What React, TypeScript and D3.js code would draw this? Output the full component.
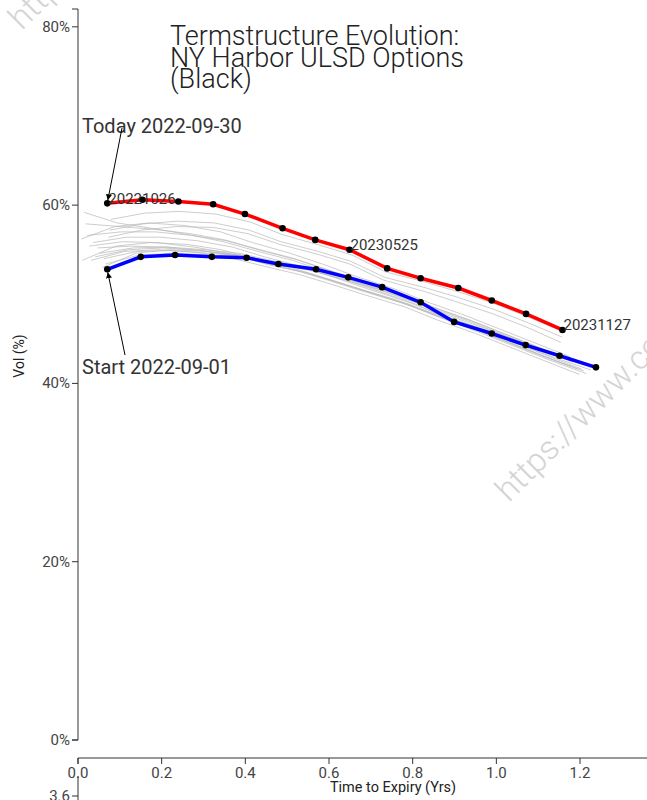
import React from "react";
import * as d3 from "d3";

// ---- data ----
const todayX = [0.070, 0.154, 0.240, 0.323, 0.399, 0.489, 0.567, 0.649, 0.739, 0.819, 0.909, 0.989, 1.071, 1.158];
const todayVol = [60.2, 60.6, 60.4, 60.1, 59.0, 57.4, 56.1, 55.0, 52.9, 51.8, 50.7, 49.3, 47.8, 46.0];
const startX = [0.070, 0.150, 0.232, 0.320, 0.403, 0.479, 0.569, 0.646, 0.727, 0.819, 0.899, 0.989, 1.070, 1.151, 1.238];
const startVol = [52.8, 54.2, 54.4, 54.2, 54.1, 53.4, 52.8, 51.9, 50.8, 49.1, 46.9, 45.6, 44.3, 43.1, 41.8];
const todayLabels = [
  { i: 0, text: "20221026" },
  { i: 7, text: "20230525" },
  { i: 13, text: "20231127" },
];
// contract spacing (years after first listed contract)
const contractOffsets = [0, 0.08, 0.162, 0.25, 0.333, 0.409, 0.499, 0.576, 0.657, 0.749, 0.829, 0.919, 1.0, 1.081, 1.168];
// intermediate curves: first tenor and vols
const grayStarts = [0.066, 0.062, 0.058, 0.052, 0.047, 0.041, 0.036, 0.031, 0.027, 0.022, 0.018, 0.014, 0.010, 0.008, 0.079, 0.076, 0.073];
const grayVols = [
  [53.4, 54.4, 54.6, 54.4, 54.2, 53.5, 52.8, 51.9, 50.8, 49.2, 47.2, 45.8, 44.5, 43.3, 42.0],
  [54.0, 54.8, 54.9, 54.6, 54.3, 53.5, 52.6, 51.6, 50.5, 49.0, 47.3, 45.9, 44.6, 43.3, 41.9],
  [53.0, 54.6, 55.0, 54.8, 54.4, 53.6, 52.7, 51.7, 50.4, 48.9, 47.2, 45.7, 44.3, 42.9, 41.5],
  [54.6, 55.2, 55.3, 55.0, 54.6, 53.8, 52.9, 51.9, 50.7, 49.3, 47.7, 46.2, 44.8, 43.4, 42.0],
  [55.2, 55.4, 55.3, 54.9, 54.3, 53.3, 52.4, 51.3, 50.1, 48.7, 47.2, 45.6, 44.1, 42.6, 41.1],
  [54.2, 55.0, 55.2, 54.9, 54.4, 53.5, 52.5, 51.4, 50.2, 48.9, 47.4, 45.9, 44.4, 42.9, 41.4],
  [55.8, 56.4, 56.4, 56.0, 55.3, 54.2, 53.1, 51.9, 50.6, 49.2, 47.7, 46.2, 44.7, 43.2, 41.6],
  [53.8, 54.8, 55.0, 54.7, 54.1, 53.2, 52.2, 51.1, 49.9, 48.6, 47.1, 45.6, 44.1, 42.6, 41.0],
  [55.4, 55.9, 55.8, 55.3, 54.6, 53.6, 52.6, 51.5, 50.3, 49.0, 47.6, 46.1, 44.6, 43.1, 41.6],
  [56.6, 57.0, 57.0, 56.6, 56.0, 55.0, 53.9, 52.7, 51.4, 50.0, 48.5, 47.0, 45.5, 44.0, 42.4],
  [57.9, 57.6, 57.3, 56.8, 56.1, 55.1, 54.0, 52.8, 51.5, 50.1, 48.6, 47.1, 45.6, 44.1, 42.5],
  [59.2, 58.0, 57.4, 56.7, 55.9, 54.9, 53.8, 52.6, 51.3, 50.0, 48.5, 47.0, 45.5, 44.0, 42.4],
  [53.8, 55.4, 55.8, 55.6, 55.0, 54.0, 53.0, 51.9, 50.7, 49.4, 48.0, 46.5, 45.0, 43.5, 41.9],
  [56.2, 57.6, 58.0, 57.7, 57.0, 55.8, 54.6, 53.4, 52.0, 50.6, 49.1, 47.6, 46.1, 44.6, 43.0],
  [58.4, 59.1, 59.3, 59.0, 58.1, 56.7, 55.5, 54.4, 52.5, 51.4, 50.3, 48.9, 47.4, 45.8],
  [57.2, 57.9, 58.2, 58.0, 57.2, 55.9, 54.8, 53.7, 51.9, 50.8, 49.7, 48.3, 46.8, 45.2],
  [56.4, 57.2, 57.6, 57.5, 56.8, 55.6, 54.5, 53.4, 51.6, 50.4, 49.2, 47.8, 46.3, 44.6],
];
const yTicks = [0, 20, 40, 60, 80];
const xTicks = [0, 0.2, 0.4, 0.6, 0.8, 1.0, 1.2];
const titleLines = ["Termstructure Evolution:", "NY Harbor ULSD Options", "(Black)"];
const todayText = "Today 2022-09-30";
const startText = "Start 2022-09-01";
const watermark = "https://www.commodity";

const FONT = "Roboto, 'Noto Sans', sans-serif";

export default function App() {
  const x = d3.scaleLinear().domain([0, 1.362]).range([78, 647.8]);
  const y = d3.scaleLinear().domain([0, 82]).range([740, 9]);
  const line = d3
    .line<[number, number]>()
    .x((d) => x(d[0]))
    .y((d) => y(d[1]));

  const today: [number, number][] = todayX.map((v, i) => [v, todayVol[i]]);
  const start: [number, number][] = startX.map((v, i) => [v, startVol[i]]);
  const grays: [number, number][][] = grayVols.map((vols, k) =>
    vols.map((v, i) => [grayStarts[k] + contractOffsets[i], v] as [number, number])
  );

  const x0 = x(0);
  const yBottom = y(0);
  const xAxisY = 758;

  const tp = today[0];
  const sp = start[0];

  return (
    <svg
      width={647}
      height={800}
      style={{ position: "absolute", left: 0, top: 0, background: "#fff" }}
      fontFamily={FONT}
    >
      <defs>
        <marker id="arr" viewBox="0 0 10 10" refX="10" refY="5" markerWidth="6" markerHeight="6" orient="auto-start-reverse">
          <path d="M0,0L10,5L0,10z" fill="#000" />
        </marker>
      </defs>

      {/* watermarks */}
      <g fill="#d4d4d4" fontSize={33} fontFamily={FONT} fontWeight={300}>
        <text transform="translate(22,31) rotate(-45)">{watermark}</text>
        <text transform="translate(509,503) rotate(-45)">{watermark}</text>
        <text transform="translate(104,814) rotate(-45)" textAnchor="end">{watermark}</text>
      </g>

      {/* title */}
      <g fontSize={27} fill="#222" fontWeight={300}>
        {titleLines.map((t, i) => (
          <text key={i} x={170} y={45 + i * 21.5}>
            {t}
          </text>
        ))}
      </g>

      {/* gray curves */}
      <g fill="none" stroke="#b8b8b8" strokeWidth={1} strokeOpacity={0.7}>
        {grays.map((g, i) => (
          <path key={i} d={line(g) || ""} />
        ))}
      </g>

      {/* main curves */}
      <path d={line(start) || ""} fill="none" stroke="#0000ff" strokeWidth={3.5} />
      <path d={line(today) || ""} fill="none" stroke="#ff0000" strokeWidth={3.5} />
      <g fill="#000">
        {start.map((d, i) => (
          <circle key={"s" + i} cx={x(d[0])} cy={y(d[1])} r={3.3} />
        ))}
        {today.map((d, i) => (
          <circle key={"t" + i} cx={x(d[0])} cy={y(d[1])} r={3.3} />
        ))}
      </g>
      <g fontSize={15} fill="#333">
        {todayLabels.map((l) => (
          <text key={l.text} x={x(today[l.i][0]) + 1} y={y(today[l.i][1]) + 0.5}>
            {l.text}
          </text>
        ))}
      </g>

      {/* annotations */}
      <g fontSize={20} fill="#333">
        <text x={82} y={133}>{todayText}</text>
        <text x={82} y={374}>{startText}</text>
      </g>
      <line x1={122} y1={128} x2={x(tp[0]) + 0.5} y2={y(tp[1]) - 3} stroke="#000" strokeWidth={1} markerEnd="url(#arr)" />
      <line x1={125} y1={355} x2={x(sp[0]) + 0.5} y2={y(sp[1]) + 3} stroke="#000" strokeWidth={1} markerEnd="url(#arr)" />

      {/* y axis */}
      <g>
        <path d={`M${x0 - 6},${y(82)}H${x0}V${yBottom}H${x0 - 6}`} fill="none" stroke="#333" strokeWidth={1} />
        {yTicks.map((t) => (
          <g key={t} transform={`translate(0,${y(t)})`}>
            <line x1={x0 - 6} x2={x0} stroke="#333" />
            <text x={x0 - 8} dy="0.32em" textAnchor="end" fontSize={15} fill="#444">
              {t}%
            </text>
          </g>
        ))}
        <text transform={`translate(24,356) rotate(-90)`} textAnchor="middle" fontSize={14} fill="#222">
          Vol (%)
        </text>
      </g>

      {/* x axis */}
      <g>
        <path d={`M${x0},${xAxisY + 6}V${xAxisY}H${x(1.362)}V${xAxisY + 6}`} fill="none" stroke="#333" strokeWidth={1} />
        {xTicks.map((t) => (
          <g key={t} transform={`translate(${x(t)},0)`}>
            <line y1={xAxisY} y2={xAxisY + 6} stroke="#333" />
            <text y={xAxisY + 20} textAnchor="middle" fontSize={15} fill="#444">
              {t.toFixed(1)}
            </text>
          </g>
        ))}
        <text x={393} y={792} textAnchor="middle" fontSize={14.5} fill="#222">
          Time to Expiry (Yrs)
        </text>
      </g>

      {/* next panel axis (cut off) */}
      <g>
        <path d={`M${x0},776V800`} fill="none" stroke="#333" />
        <line x1={x0 - 6} x2={x0} y1={796} y2={796} stroke="#333" />
        <text x={x0 - 8} y={796} dy="0.32em" textAnchor="end" fontSize={15} fill="#444">
          3.6
        </text>
      </g>
    </svg>
  );
}
